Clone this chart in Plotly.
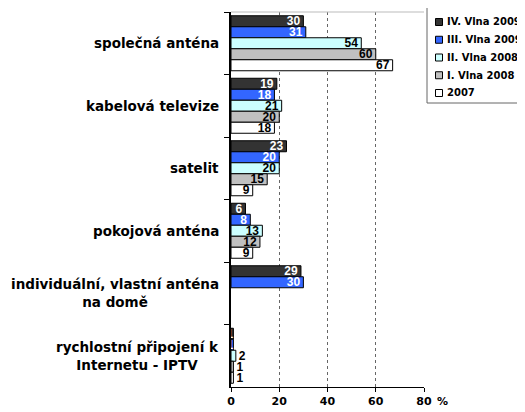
import plotly.graph_objects as go

categories = ["společná anténa", "kabelová televize", "satelit", "pokojová anténa",
              "individuální, vlastní anténa<br>na domě", "rychlostní připojení k<br>Internetu - IPTV"]
series_names = ["IV. Vlna 2009", "III. Vlna 2009", "II. Vlna 2008", "I. Vlna 2008", "2007"]
vlna4_2009 = [30, 19, 23, 6, 29, 1]
vlna3_2009 = [31, 18, 20, 8, 30, 1]
vlna2_2008 = [54, 21, 20, 13, None, 2]
vlna1_2008 = [60, 20, 15, 12, None, 1]
y2007 = [67, 18, 9, 9, None, 1]
x_ticks = [0, 20, 40, 60, 80]

series_values = [vlna4_2009, vlna3_2009, vlna2_2008, vlna1_2008, y2007]
colors = ["#333333", "#3366FF", "#CCFFFF", "#C0C0C0", "#FFFFFF"]
inside_text_colors = ["#FFFFFF", "#FFFFFF", "#000000", "#000000", "#000000"]
text_positions = ["inside", "inside", "auto", "auto", "auto"]

FONT = "Liberation Sans"
WIDE = "DejaVu Sans"

# figure geometry (pixels)
W, H = 517, 404
ML, MR, MT, MB = 223, 101, 4, 25
PW, PH = W - ML - MR, H - MT - MB


def px_x(x):
    return (x - ML) / PW


def px_y(y):
    return (H - MB - y) / PH


fig = go.Figure()
for name, vals, col, tcol, tpos in zip(series_names, series_values, colors,
                                       inside_text_colors, text_positions):
    fig.add_trace(go.Bar(
        y=categories, x=vals, name=name, orientation="h",
        marker=dict(color=col, line=dict(color="#000000", width=1)),
        text=[("" if v is None else str(v)) for v in vals],
        textposition=tpos, insidetextanchor="end",
        insidetextfont=dict(family=FONT, size=12, color=tcol, weight="bold"),
        outsidetextfont=dict(family=FONT, size=12, color=tcol, weight="bold"),
        textangle=0, constraintext="none", cliponaxis=False, showlegend=False,
    ))

for c in categories:
    fig.add_annotation(x=0, y=c, xref="paper", yref="y", text=c,
                       showarrow=False, xanchor="right", align="center",
                       xshift=-10, font=dict(family=WIDE, size=13.5, color="#000000", weight="bold"))

fig.add_annotation(x=1, y=0, xref="paper", yref="paper", text="%", showarrow=False,
                   xanchor="left", yanchor="top", xshift=11, yshift=-6,
                   font=dict(family=WIDE, size=11, color="#000000", weight="bold"))

# legend box (drawn in pixel units of the figure)
fig.add_shape(type="rect", xref="paper", yref="paper",
              x0=px_x(419), x1=px_x(530), y0=px_y(-4), y1=px_y(95),
              line=dict(color="#666666", width=1), fillcolor="white", layer="above")
for i, (name, col) in enumerate(zip(series_names, colors)):
    cy = 14 + 17.75 * i
    fig.add_shape(type="rect", xref="paper", yref="paper",
                  x0=px_x(427.5), x1=px_x(434.5), y0=px_y(cy - 3.5), y1=px_y(cy + 3.5),
                  line=dict(color="#000000", width=1), fillcolor=col, layer="above")
    fig.add_annotation(x=px_x(437), y=px_y(cy), xref="paper", yref="paper", text=name,
                       showarrow=False, xanchor="left", yanchor="middle",
                       font=dict(family=WIDE, size=10, color="#000000", weight="bold"))

fig.update_layout(
    width=W, height=H,
    margin=dict(l=ML, r=MR, t=MT, b=MB, autoexpand=False),
    paper_bgcolor="white", plot_bgcolor="white",
    barmode="group", bargap=0.12, bargroupgap=0,
    font=dict(family=FONT, size=11, color="#000000"),
    showlegend=False,
)
fig.update_xaxes(range=[0, 80], tickvals=x_ticks,
                 showgrid=True, gridcolor="#666666", griddash="dot", gridwidth=1,
                 showline=True, linecolor="#000000", linewidth=1,
                 ticks="outside", ticklen=4, tickcolor="#000000", automargin=False,
                 tickfont=dict(family=WIDE, size=11, weight="bold"), zeroline=False)
fig.update_yaxes(autorange="reversed", showticklabels=False, tickson="boundaries",
                 ticks="outside", ticklen=5, tickcolor="#000000", automargin=False,
                 showline=True, linecolor="#000000", linewidth=2, showgrid=False)
fig.add_shape(type="line", xref="paper", yref="paper", x0=0, x1=1, y0=1, y1=1,
              line=dict(color="#BBBBBB", width=1))

fig.write_html("out.html")
